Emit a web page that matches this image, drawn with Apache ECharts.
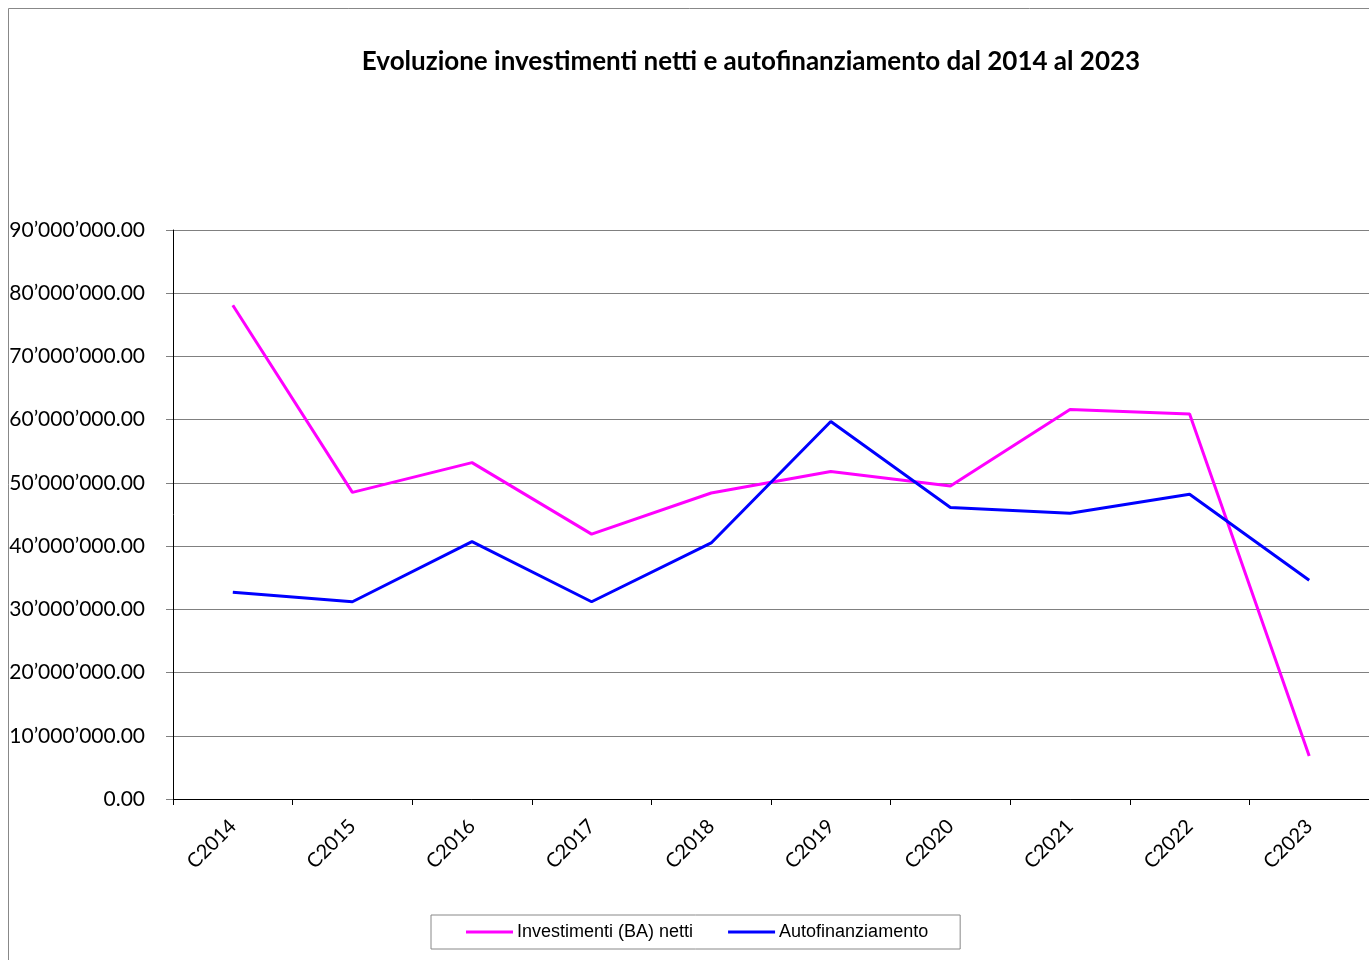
<!DOCTYPE html>
<html>
<head>
<meta charset="utf-8">
<script src="https://cdn.jsdelivr.net/npm/echarts@6/dist/echarts.min.js"></script>
<style>
html,body{margin:0;padding:0;background:#fff;}
#chart{width:1369px;height:960px;}
</style>
</head>
<body>
<div id="chart"></div>
<script>
const categories = ['C2014','C2015','C2016','C2017','C2018','C2019','C2020','C2021','C2022','C2023'];
const investimenti = [78100000, 48500000, 53200000, 41900000, 48400000, 51800000, 49500000, 61600000, 60900000, 6800000];
const autofinanziamento = [32700000, 31200000, 40700000, 31200000, 40500000, 59700000, 46100000, 45200000, 48200000, 34600000];
const seriesNames = ['Investimenti (BA) netti', 'Autofinanziamento'];
const titleText = 'Evoluzione investimenti netti e autofinanziamento dal 2014 al 2023';

function fmt(v) {
  const s = Math.round(v).toString().replace(/\B(?=(\d{3})+(?!\d))/g, '\u2019');
  return s + '.00';
}

const chart = echarts.init(document.getElementById('chart'));
chart.setOption({
  animation: false,
  backgroundColor: '#fff',
  graphic: [{
    type: 'rect', left: 6, top: 6, silent: true, z: -1,
    shape: {width: 1400, height: 1000},
    style: {fill: 'none', stroke: '#888', lineWidth: 1}
  }],
  title: {
    text: titleText, left: 746, top: 44, textAlign: 'center',
    textStyle: {fontFamily: 'Lato', fontWeight: 'bold', fontSize: 26, color: '#000'}
  },
  legend: {
    left: 431, top: 915, padding: [8, 32, 8, 35],
    borderColor: '#888', borderWidth: 1, itemGap: 35,
    itemWidth: 47, itemHeight: 3, icon: 'rect',
    textStyle: {fontFamily: 'Liberation Sans', fontSize: 18, color: '#000', padding: [0,0,0,-1]},
    data: seriesNames
  },
  grid: {left: 173, width: 1200, top: 230, height: 569, containLabel: false},
  xAxis: {
    type: 'category', data: categories, boundaryGap: true,
    axisLine: {lineStyle: {color: '#000', width: 1}},
    axisTick: {show: true, length: 6, alignWithLabel: false, lineStyle: {color: '#000'}},
    axisLabel: {rotate: 45, fontFamily: 'Lato', fontSize: 20, color: '#000', margin: 24, interval: 0}
  },
  yAxis: {
    type: 'value', min: 0, max: 90000000, interval: 10000000,
    axisLine: {show: true, lineStyle: {color: '#000', width: 1}},
    axisTick: {show: true, length: 7, lineStyle: {color: '#808080'}},
    splitLine: {show: true, lineStyle: {color: '#808080', width: 1}},
    axisLabel: {formatter: fmt, fontFamily: 'Lato', fontSize: 21, color: '#000', margin: 28}
  },
  series: [{
    name: seriesNames[0], type: 'line', data: investimenti,
    symbol: 'none', lineStyle: {color: '#FF00FF', width: 3}, itemStyle: {color: '#FF00FF'}
  }, {
    name: seriesNames[1], type: 'line', data: autofinanziamento,
    symbol: 'none', lineStyle: {color: '#0000FF', width: 3}, itemStyle: {color: '#0000FF'}
  }]
});
</script>
</body>
</html>
